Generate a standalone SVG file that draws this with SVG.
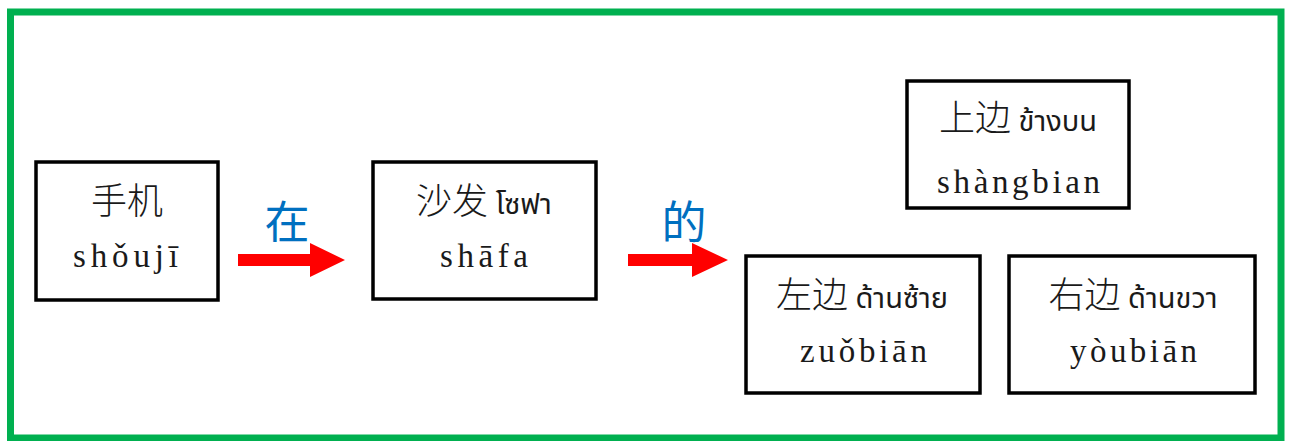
<svg xmlns="http://www.w3.org/2000/svg" width="1289" height="441" viewBox="0 0 1289 441">
<style>
.box{fill:#fff;stroke:#000;stroke-width:3.5}
.zh{font-family:"Noto Sans CJK SC",sans-serif;font-size:36px;fill:#1a1a1a;font-weight:300}
.th{font-family:"Noto Sans Thai","Noto Sans","DejaVu Sans",sans-serif;font-size:29px;fill:#1a1a1a}
.py{font-family:"Liberation Serif","DejaVu Serif",serif;font-size:33px;fill:#1a1a1a}
.lbl{font-family:"Noto Sans CJK SC",sans-serif;font-size:45px;fill:#0070C0;font-weight:400}
.arr{fill:#FF0000}
</style>
<rect x="10.5" y="12" width="1270.5" height="426" fill="#fff" stroke="#00B050" stroke-width="7"/>
<g id="connectors">
<polygon class="arr" points="238,254 310,254 310,243 345,260 310,277 310,266 238,266"/>
<polygon class="arr" points="628,254 692,254 692,243 728,260 692,277 692,266 628,266"/>
<text class="lbl" x="287" y="239" text-anchor="middle">在</text>
<text class="lbl" x="684" y="239" text-anchor="middle">的</text>
</g>
<g id="shouji">
<rect class="box" x="36" y="162" width="182" height="138"/>
<text class="zh" x="127" y="214" text-anchor="middle">手机</text>
<text class="py" x="73" y="267" textLength="105" lengthAdjust="spacing">shǒujī</text>
</g>
<g id="shafa">
<rect class="box" x="373" y="162" width="223" height="137"/>
<text x="484" y="214" text-anchor="middle"><tspan class="zh">沙发</tspan><tspan class="th"> โซฟา</tspan></text>
<text class="py" x="440" y="267" textLength="88" lengthAdjust="spacing">shāfa</text>
</g>
<g id="shangbian">
<rect class="box" x="907" y="81" width="222" height="127"/>
<text x="1018" y="131" text-anchor="middle"><tspan class="zh">上边</tspan><tspan class="th"> ข้างบน</tspan></text>
<text class="py" x="937" y="193" textLength="163" lengthAdjust="spacing">shàngbian</text>
</g>
<g id="zuobian">
<rect class="box" x="746" y="256" width="234" height="137"/>
<text x="862" y="308" text-anchor="middle"><tspan class="zh">左边</tspan><tspan class="th"> ด้านซ้าย</tspan></text>
<text class="py" x="800" y="362" textLength="127" lengthAdjust="spacing">zuǒbiān</text>
</g>
<g id="youbian">
<rect class="box" x="1009" y="256" width="246" height="137"/>
<text x="1133" y="308" text-anchor="middle"><tspan class="zh">右边</tspan><tspan class="th"> ด้านขวา</tspan></text>
<text class="py" x="1070" y="362" textLength="127" lengthAdjust="spacing">yòubiān</text>
</g>
</svg>
